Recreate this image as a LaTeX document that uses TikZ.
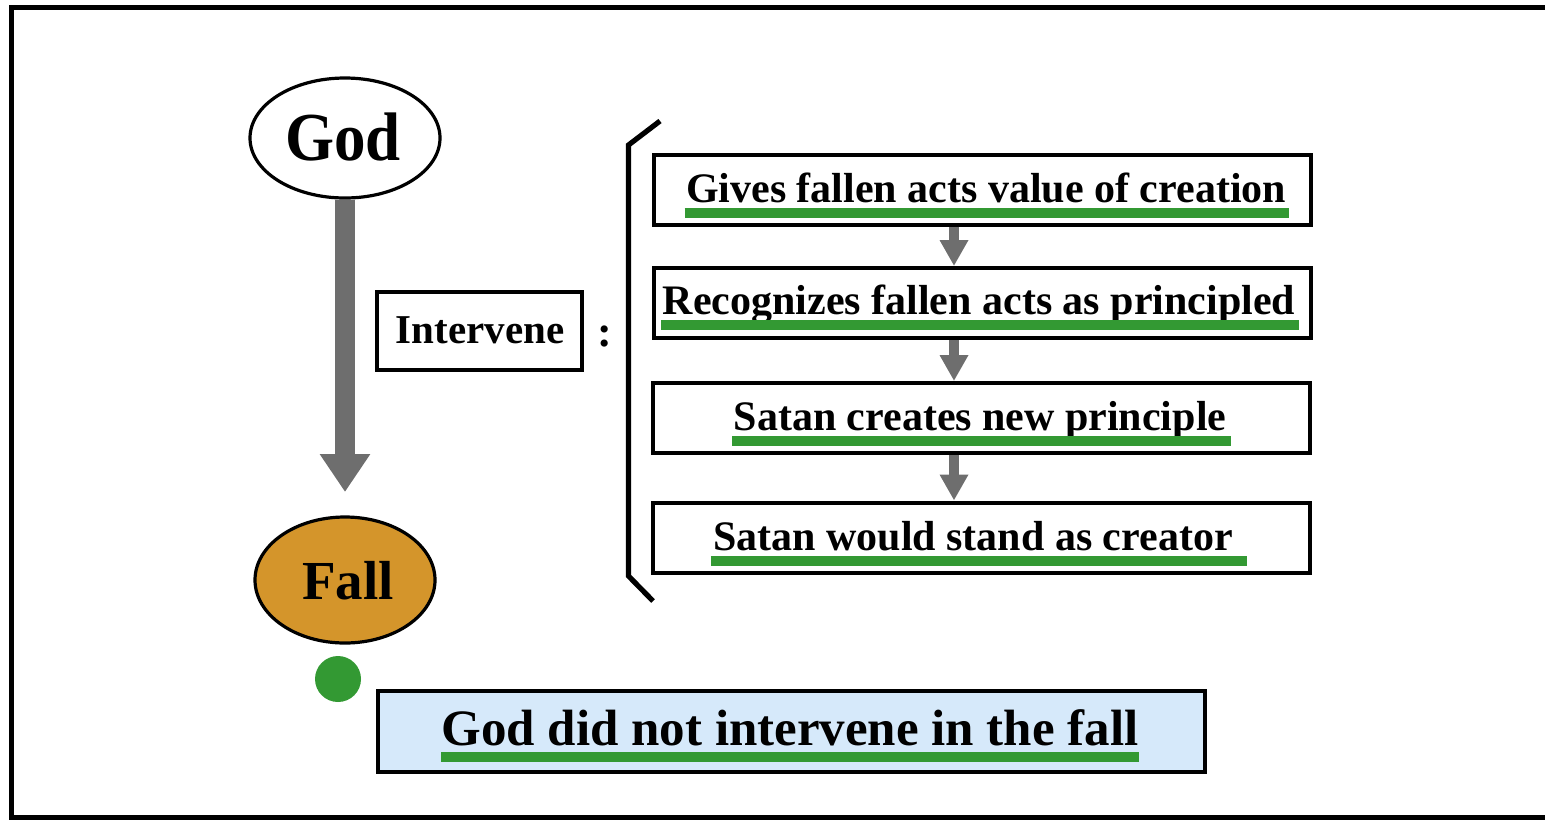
\documentclass[tikz,border=0pt]{standalone}
\usepackage{fontspec}
\setmainfont{Liberation Serif}
\usetikzlibrary{arrows.meta,shapes.geometric}
\definecolor{gulgreen}{HTML}{339933}
\definecolor{fallfill}{HTML}{D4952B}
\definecolor{arrgray}{HTML}{6E6E6E}
\definecolor{notefill}{HTML}{D6E9FA}
\tikzset{
  oval/.style={ellipse, draw=black, line width=1.6pt, inner sep=0pt},
  stepbox/.style={draw=black, line width=2pt, minimum width=328.5pt, minimum height=35pt, inner sep=0pt},
  boxtext/.style={anchor=base, inner sep=0pt, font=\fontsize{21}{21}\selectfont\bfseries},
  gul/.style={draw=gulgreen, line width=5pt},
  smallarr/.style={draw=arrgray, line width=5pt, -{Triangle[width=13.5pt,length=13pt]}, arrgray},
}
\begin{document}
\begin{tikzpicture}[x=0.5pt,y=-0.5pt]
\useasboundingbox (0,0) rectangle (1545,821);
% frame
\draw[line width=2.5pt] (1560,7.5) -- (11.5,7.5) -- (11.5,817.5) -- (1560,817.5);
% God / Fall
\node[oval, minimum width=95pt, minimum height=60pt] (god) at (345,138) {};
\node[anchor=base, inner sep=0pt, font=\fontsize{31.5}{31.5}\selectfont\bfseries] (godt) at (343,160) {\scalebox{1}[1.09]{God}};
\node[oval, fill=fallfill, minimum width=90pt, minimum height=63pt] (fall) at (345,580) {};
\node[anchor=base, inner sep=0pt, font=\fontsize{27.5}{27.5}\selectfont\bfseries] (fallt) at (348,599) {Fall};
\coordinate (tip) at (345,492);
\draw[draw=arrgray, line width=10pt, -{Triangle[width=24pt,length=19pt]}, arrgray] (god.south) -- (tip);
\node[circle, fill=gulgreen, minimum size=23pt, inner sep=0pt] (dot) at (338,679) {};
% Intervene
\node[draw=black, line width=2pt, minimum width=102.5pt, minimum height=39pt, inner sep=0pt] (intv) at (479.5,331) {};
\node[anchor=base, inner sep=0pt, font=\fontsize{20.5}{20.5}\selectfont\bfseries] (intvt) at (480,343) {Intervene};
\node[anchor=base, inner sep=0pt, font=\fontsize{22}{22}\selectfont\bfseries] (colon) at (605,346) {:};
% bracket
\coordinate (b1) at (660,121);
\coordinate (b2) at (628.5,145);
\coordinate (b3) at (628.5,576);
\coordinate (b4) at (653,601);
\draw[line width=2.6pt] (b1) -- (b2) -- (b3) -- (b4);
% steps
\node[stepbox] (s1) at (982.5,189.5) {};
\node[stepbox] (s2) at (982,303) {};
\node[stepbox] (s3) at (981,418) {};
\node[stepbox] (s4) at (981,537.5) {};
\node[boxtext] (t1) at (986,202) {Gives fallen acts value of creation};
\node[boxtext] (t2) at (979,314) {Recognizes fallen acts as principled};
\node[boxtext] (t3) at (980,430) {Satan creates new principle};
\node[boxtext] (t4) at (973,550) {Satan would stand as creator};
\draw[gul] ([xshift=-0.5pt,yshift=-5.5pt]t1.base west) -- ([xshift=1.5pt,yshift=-5.5pt]t1.base east);
\draw[gul] ([xshift=-0.5pt,yshift=-5.5pt]t2.base west) -- ([xshift=1.5pt,yshift=-5.5pt]t2.base east);
\draw[gul] ([xshift=-0.5pt,yshift=-5.5pt]t3.base west) -- ([xshift=2pt,yshift=-5.5pt]t3.base east);
\draw[gul] ([xshift=-1pt,yshift=-5.5pt]t4.base west) -- ([xshift=7pt,yshift=-5.5pt]t4.base east);
\draw[smallarr] (s1.south -| 954,0) -- (s2.north -| 954,0);
\draw[smallarr] (s2.south -| 954,0) -- (s3.north -| 954,0);
\draw[smallarr] (s3.south -| 954,0) -- (s4.north -| 954,0);
% conclusion
\node[draw=black, fill=notefill, line width=2pt, minimum width=413.5pt, minimum height=40.5pt, inner sep=0pt] (note) at (791.5,731.5) {};
\node[anchor=base, inner sep=0pt, font=\fontsize{25.5}{25.5}\selectfont\bfseries] (notet) at (790,745) {God did not intervene in the fall};
\draw[gul] ([xshift=0pt,yshift=-6.2pt]notet.base west) -- ([xshift=0pt,yshift=-6.2pt]notet.base east);
\end{tikzpicture}
\end{document}
